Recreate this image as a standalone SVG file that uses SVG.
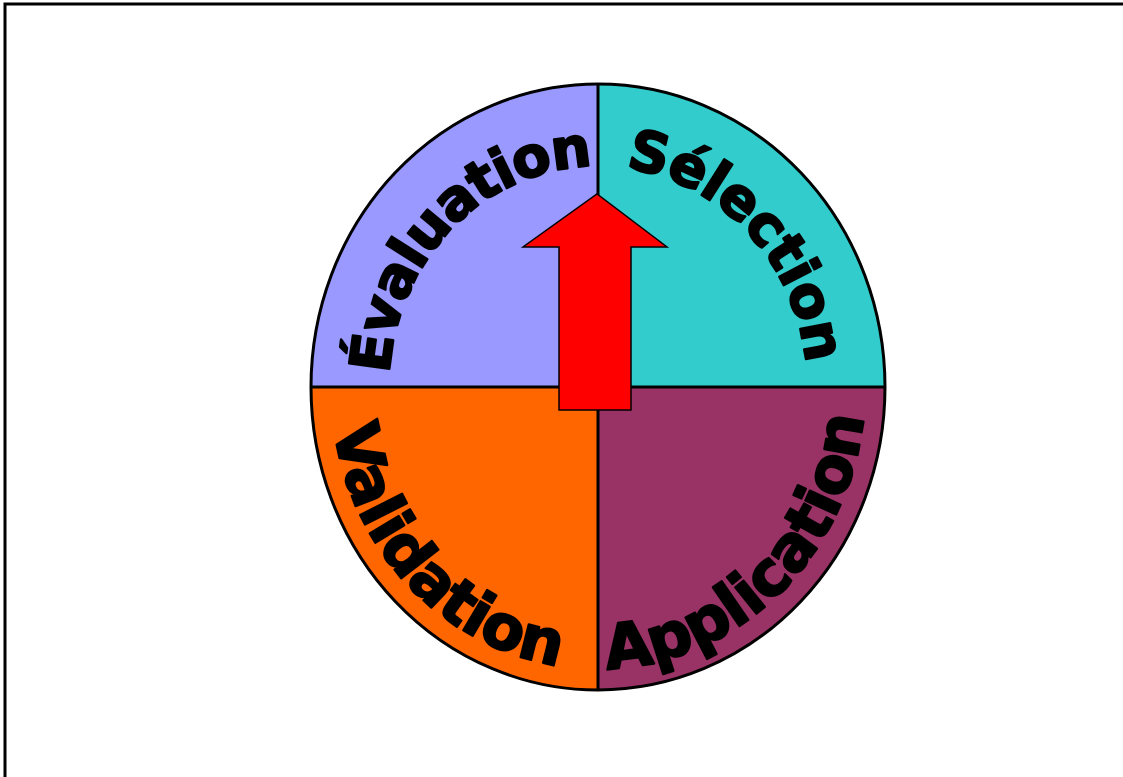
<svg xmlns="http://www.w3.org/2000/svg" xmlns:xlink="http://www.w3.org/1999/xlink" width="1123" height="777" viewBox="0 0 1123 777">
<style>
.q{stroke:none}
.lbl{font-family:"DejaVu Sans","Liberation Sans",sans-serif;font-weight:bold;fill:#000;stroke:#000;stroke-width:2.2;stroke-linejoin:round}
.top{font-size:56px;letter-spacing:-0.8px}
.bot{font-size:62px;letter-spacing:-0.3px}
.ln{stroke:#000;stroke-width:3;fill:none}
</style>
<defs>
<path id="arcTop" d="M389,387 A209,221 0 0 1 807,387"/>
<path id="arcBot" d="M331,387 A267,282 0 0 0 865,387"/>
</defs>
<rect width="1123" height="777" fill="#fff"/>
<path d="M5,777 V4 H1123" class="ln" stroke-width="2"/>
<g id="evaluation">
<path class="q" fill="#9999FF" d="M598,387 L311,387 A287,303 0 0 1 598,84 Z"/>
</g>
<g id="selection">
<path class="q" fill="#33CCCC" d="M598,387 L598,84 A287,303 0 0 1 885,387 Z"/>
</g>
<g id="application">
<path class="q" fill="#993366" d="M598,387 L885,387 A287,303 0 0 1 598,690 Z"/>
</g>
<g id="validation">
<path class="q" fill="#FF6600" d="M598,387 L598,690 A287,303 0 0 1 311,387 Z"/>
</g>
<g id="connectors">
<line class="ln" x1="598" y1="84" x2="598" y2="690" stroke-width="2.5"/>
<line class="ln" x1="311" y1="387" x2="885" y2="387" stroke-width="2.5"/>
<ellipse class="ln" cx="598" cy="387" rx="287" ry="303"/>
</g>
<g id="labels">
<text class="lbl top" style="letter-spacing:-1.6px"><textPath xlink:href="#arcTop" href="#arcTop" startOffset="172" text-anchor="middle">Évaluation</textPath></text>
<text class="lbl top"><textPath xlink:href="#arcTop" href="#arcTop" startOffset="508" text-anchor="middle">Sélection</textPath></text>
<text class="lbl bot"><textPath xlink:href="#arcBot" href="#arcBot" startOffset="216" text-anchor="middle">Validation</textPath></text>
<text class="lbl bot"><textPath xlink:href="#arcBot" href="#arcBot" startOffset="636" text-anchor="middle">Application</textPath></text>
</g>
<g id="arrow">
<polygon points="559,410 559,247 523,247 597,194 667,247 631,247 631,410" fill="#FF0000" stroke="#000" stroke-width="1.5"/>
</g>
</svg>
